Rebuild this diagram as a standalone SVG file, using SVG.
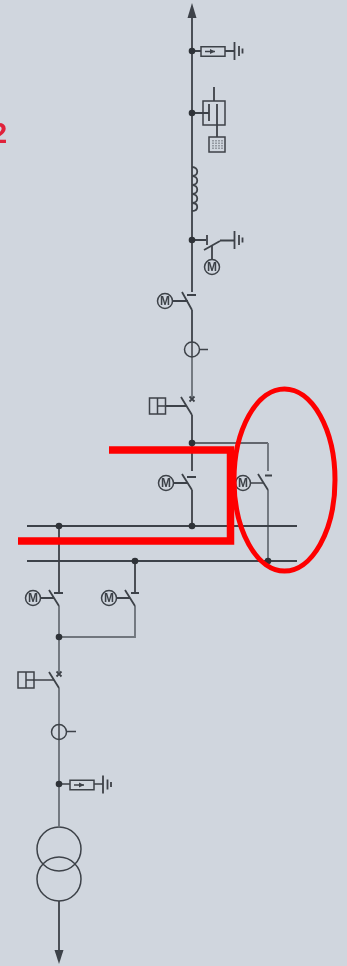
<svg xmlns="http://www.w3.org/2000/svg" width="347" height="966" viewBox="0 0 347 966">
<style>
.w{fill:none;stroke:#3d4248;stroke-width:1.8}
.g{fill:none;stroke:#70767d;stroke-width:1.9}
.t{fill:none;stroke:#3d4248;stroke-width:1.5}
.d{fill:#2e3237}
.h{fill:#3d4248}
.r{fill:none;stroke:#fe0000;stroke-width:7.500}
.m{font:bold 12px "Liberation Sans",sans-serif;fill:#3d4248;text-anchor:middle}
</style>
<defs>
<filter id="b" x="-5%" y="-5%" width="110%" height="110%"><feGaussianBlur stdDeviation="0.5"/></filter>
<g id="motor"><circle class="t" r="7.500" fill="none"/><text class="m" y="4.300">M</text></g>
<g id="gnd"><path class="w" d="M0-9V9M4.500-5V5M8-2.500V2.500"/></g>
<g id="arr"><rect class="t" width="24" height="9.500" y="-4.750"/><path class="t" d="M4 0H14"/><path class="h" d="M9-2.500L14 0L9 2.500Z"/></g>
<g id="box"><rect class="t" width="16" height="16"/><path class="t" d="M8 0V16M8 8H16"/></g>
</defs>
<rect width="347" height="966" fill="#d0d6de"/>
<g filter="url(#b)">
<text x="-9" y="143" style="font:bold 29px 'Liberation Sans',sans-serif;fill:#e0203a">2</text>
<g id="connectors">
<path class="w" d="M192 12V292"/>
<path class="w" d="M192 51H201M225 51H234M192 113H209M214 87V101M217 125V137M192 240H206M220 240.500H234M212 246V259M173 301H188"/>
<path class="w" d="M192 310V342"/>
<path class="g" d="M192 357V397"/>
<path class="w" d="M192 415V471M166 406H187"/>
<path class="w" d="M192 490V526M174 483H188"/>
<path class="t" d="M192 443H268"/>
<path class="g" d="M268 443V471M268 490V561"/>
<path class="t" d="M251 483H263"/>
<path class="w" d="M27 526H297M27 561H297"/>
<path class="w" d="M59 526V592M135 561V592M41 598H54M117 598H130"/>
<path class="g" d="M59 606V672M59 637H135V606M59 688V725M59 739V826"/>
<path class="t" d="M33 680H54"/>
<path class="w" d="M59 901V952"/>
<path class="t" d="M59 784H70M94 784H103"/>
</g>
<g id="arrow-top"><path class="h" d="M192 3L196.500 18H187.500Z"/></g>
<g id="arrester-top"><circle class="d" cx="192" cy="51" r="3.300"/><use href="#arr" x="201" y="51.500"/><use href="#gnd" x="234.500" y="51"/></g>
<g id="capacitor"><circle class="d" cx="192" cy="113" r="3.300"/><rect class="t" x="203" y="101" width="22" height="24"/><path class="w" d="M209 104V121M217 104V125"/><rect class="t" x="209" y="137" width="16" height="15"/><path stroke="#5a5f66" stroke-width="1" stroke-dasharray="1.500 1" fill="none" d="M213 140V150M216 140V150M219 140V150M222 140V150"/></g>
<g id="inductor"><path class="w" d="M192 167C199 167 199 176 192 176C199 176 199 185 192 185C199 185 199 194 192 194C199 194 199 203 192 203C199 203 199 211 192 211"/></g>
<g id="earth-switch"><circle class="d" cx="192" cy="240" r="3.300"/><path class="w" d="M207 235V245M204 250L220 241"/><use href="#gnd" x="234.500" y="240"/><use href="#motor" x="212" y="267"/></g>
<g id="disconnector-1"><path class="w" d="M187 295H196M182 292L192 310"/><use href="#motor" x="165" y="301"/></g>
<g id="ct-1"><circle class="t" cx="192" cy="349.500" r="7.500"/><path class="t" d="M192 342V357M200 349.500H208"/></g>
<g id="breaker-1"><path class="w" d="M181 397L192 415M189.500 396.500L194.500 401.500M194.500 396.500L189.500 401.500"/><use href="#box" x="149.500" y="398"/></g>
<g id="junction-1"><circle class="d" cx="192" cy="443" r="3.300"/></g>
<g id="disconnector-2"><path class="w" d="M187 477H196M182 474L192 490"/><use href="#motor" x="166" y="483"/></g>
<g id="disconnector-3"><path class="w" d="M265 475.500H272M258 474L268 490"/><use href="#motor" x="243" y="483"/></g>
<g id="bus-dots"><circle class="d" cx="192" cy="526" r="3.300"/><circle class="d" cx="59" cy="526" r="3.300"/><circle class="d" cx="135" cy="561" r="3.300"/><circle class="d" cx="268" cy="561" r="3.300"/></g>
<g id="disconnector-4"><path class="w" d="M54 593H63M49 590L59 606"/><use href="#motor" x="33" y="598"/></g>
<g id="disconnector-5"><path class="w" d="M131 593H139M125 590L135 606"/><use href="#motor" x="109" y="598"/></g>
<g id="junction-2"><circle class="d" cx="59" cy="637" r="3.300"/></g>
<g id="breaker-2"><path class="w" d="M49 672L59 688M56.500 671.500L61.500 676.500M61.500 671.500L56.500 676.500"/><use href="#box" x="18" y="672"/></g>
<g id="ct-2"><circle class="t" cx="59" cy="732" r="7.500"/><path class="t" d="M59 725V739M67 731.500H76"/></g>
<g id="arrester-bottom"><circle class="d" cx="59" cy="784" r="3.300"/><use href="#arr" x="70" y="785"/><use href="#gnd" x="103" y="784.500"/></g>
<g id="transformer"><circle class="t" cx="59" cy="849" r="22"/><circle class="t" cx="59" cy="879" r="22"/></g>
<g id="arrow-bottom"><path class="h" d="M59 964L54.500 950H63.500Z"/></g>
</g>
<g id="highlight">
<path class="r" d="M109 450H230.500V541H18"/>
<ellipse cx="284.500" cy="480" rx="50.500" ry="91" fill="none" stroke="#fe0000" stroke-width="5"/>
</g>
</svg>
